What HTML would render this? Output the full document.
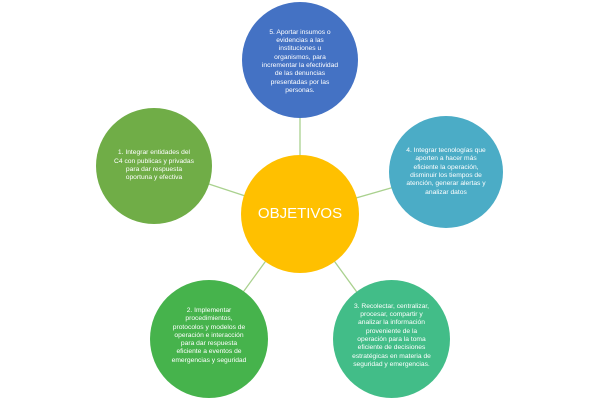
<!DOCTYPE html>
<html><head><meta charset="utf-8"><style>
body{margin:0;width:600px;height:400px;background:#fff;position:relative;overflow:hidden;font-family:"Liberation Sans",sans-serif}
svg{position:absolute;left:0;top:0}
.c{position:absolute;border-radius:50%;display:flex;align-items:center;justify-content:center;text-align:center;color:#fff;font-size:6.7px;line-height:8.3px;box-sizing:border-box;padding:0 10px}
</style></head><body>
<svg width="600" height="400"><g stroke="#a9d18e" stroke-width="1.3">
<line x1="300" y1="60" x2="300" y2="214"/>
<line x1="154" y1="166" x2="300" y2="214"/>
<line x1="447" y1="172" x2="300" y2="214"/>
<line x1="209" y1="339" x2="300" y2="214"/>
<line x1="391" y1="339" x2="300" y2="214"/>
</g></svg>
<div class="c" style="left:242px;top:2px;width:116px;height:116px;background:#4472c4;padding-top:4px">5. Aportar insumos o<br>evidencias a las<br>instituciones u<br>organismos, para<br>incrementar la efectividad<br>de las denuncias<br>presentadas por las<br>personas.</div>
<div class="c" style="left:96px;top:108px;width:116px;height:116px;background:#70ad47;padding-bottom:0">1. Integrar entidades del<br>C4 con publicas y privadas<br>para dar respuesta<br>oportuna y efectiva</div>
<div class="c" style="left:389px;top:116px;width:114px;height:112px;background:#4bacc6">4. Integrar tecnologías que<br>aporten a hacer más<br>eficiente la operación,<br>disminuir los tiempos de<br>atención, generar alertas y<br>analizar datos</div>
<div class="c" style="left:241px;top:155px;width:118px;height:118px;background:#ffc000;font-size:15px;line-height:18px;padding:0">OBJETIVOS</div>
<div class="c" style="left:150px;top:280px;width:118px;height:118px;background:#46b34c;padding-bottom:6px">2. Implementar<br>procedimientos,<br>protocolos y modelos de<br>operación e interacción<br>para dar respuesta<br>eficiente a eventos de<br>emergencias y seguridad</div>
<div class="c" style="left:333px;top:280px;width:117px;height:118px;background:#42bd88;padding-bottom:6px">3. Recolectar, centralizar,<br>procesar, compartir y<br>analizar la información<br>proveniente de la<br>operación para la toma<br>eficiente de decisiones<br>estratégicas en materia de<br>seguridad y emergencias.</div>
</body></html>
